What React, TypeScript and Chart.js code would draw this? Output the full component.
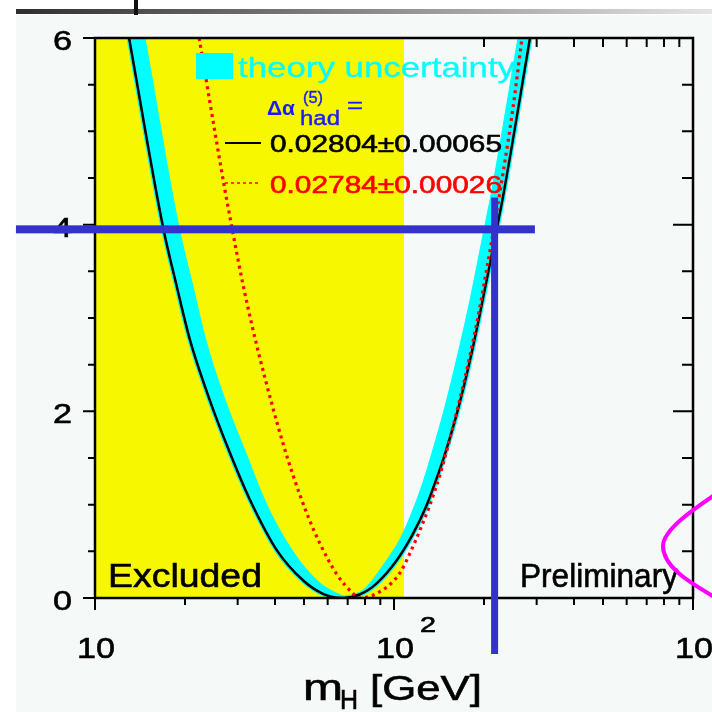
import React, { useEffect, useRef } from 'react';
import { Chart, registerables } from 'chart.js';

Chart.register(...registerables);

const FONT = '"Liberation Sans", Arial, Helvetica, sans-serif';

// Δχ² versus m_H for Δα_had^(5) = 0.02804 ± 0.00065
const BLACK_MH = [13.0, 16.9, 18.8, 20.8, 24.2, 28.3, 33.0, 40.6, 49.6, 57.9, 67.0, 77.0, 87.7, 102.4, 115.8, 128.8, 137.0, 145.9, 162.4, 179.6, 193.9, 209.4, 221.1, 231.5, 285.0];
const BLACK_CHI2 = [6.0, 3.97, 3.33, 2.76, 2.12, 1.55, 1.05, 0.51, 0.19, 0.045, 0.0, 0.04, 0.16, 0.41, 0.69, 1.0, 1.23, 1.48, 1.98, 2.55, 3.05, 3.58, 3.97, 4.3, 6.0];

// upper edge of the theory-uncertainty band
const BAND_MH = [14.7, 19.1, 21.3, 23.5, 27.4, 32.0, 37.3, 45.9, 56.1, 65.5, 71.0, 79.9, 93.3, 105.5, 117.5, 125.0, 133.0, 148.1, 163.7, 176.8, 191.0, 201.6, 211.1, 259.8];
const BAND_CHI2 = [6.0, 3.97, 3.33, 2.76, 2.1, 1.55, 1.02, 0.5, 0.17, 0.04, 0.0, 0.1, 0.38, 0.65, 1.0, 1.24, 1.52, 2.05, 2.62, 3.09, 3.62, 4.0, 4.32, 6.0];

// Δχ² versus m_H for Δα_had^(5) = 0.02784 ± 0.00026
const RED_MH = [22.3, 27.2, 28.7, 30.1, 31.3, 33.5, 35.6, 39.1, 42.5, 45.9, 51.2, 56.6, 64.5, 72.9, 77.0, 94.8, 104.7, 113.1, 122.2, 131.9, 142.5, 163.7, 179.6, 193.9, 201.5, 209.4, 231.5, 250.0, 268.0];
const RED_CHI2 = [6.0, 4.37, 3.97, 3.62, 3.35, 2.92, 2.57, 2.07, 1.66, 1.32, 0.9, 0.58, 0.25, 0.05, 0.0, 0.12, 0.27, 0.48, 0.73, 1.0, 1.32, 2.05, 2.6, 3.12, 3.42, 3.72, 4.55, 5.25, 6.0];

// direct-search exclusion edge (GeV)
const EXCLUDED_LIMIT = 108;

const X_MIN = 10;
const X_MAX = 1000;
const Y_MIN = 0;
const Y_MAX = 6;

const X_MAJOR = [10, 100, 1000];
const X_MAJOR_BASE = ['10', '10', '10'];
const X_MAJOR_EXP = ['', '2', '3'];
const X_MINOR_STEPS = [2, 3, 4, 5, 6, 7, 8, 9];
const Y_LABEL_VALUES = [0, 2, 4, 6];
const Y_LABELS = ['0', '2', '4', '6'];
const Y_MINOR_STEP = 0.5;

// marker cross
const MARK_CHI2 = 3.95;
const MARK_CHI2_FROM_MH = 5.44;
const MARK_CHI2_TO_MH = 296;
const MARK_MH = 217;
const MARK_MH_FROM_CHI2 = 4.29;
const MARK_MH_TO_CHI2 = -0.6;

const SLIDE_BG = '#f5f9f7';
const YELLOW = '#f7f700';
const CYAN = '#00ffff';
const BLUE = '#3333cc';

const RED_IDX = 0;
const BLACK_IDX = 1;
const OUTLINE_IDX = 2;
const BAND_IDX = 3;

const toPoints = (xs: number[], ys: number[]) => xs.map((x, i) => ({ x, y: ys[i] }));

function drawText(
  ctx: CanvasRenderingContext2D,
  text: string,
  left: number,
  baseline: number,
  size: number,
  width: number,
  color: string,
  weight = 'normal',
  stroke = 0.6
) {
  ctx.save();
  ctx.font = `${weight} ${size}px ${FONT}`;
  ctx.fillStyle = color;
  ctx.strokeStyle = color;
  ctx.textAlign = 'left';
  ctx.textBaseline = 'alphabetic';
  const natural = ctx.measureText(text).width;
  ctx.translate(left, baseline);
  ctx.scale(width / natural, 1);
  ctx.fillText(text, 0, 0);
  if (stroke > 0) {
    ctx.lineWidth = stroke;
    ctx.strokeText(text, 0, 0);
  }
  ctx.restore();
}

function xTickValues() {
  const out: { v: number; major: boolean }[] = [];
  for (let d = 0; d < X_MAJOR.length; d++) {
    out.push({ v: X_MAJOR[d], major: true });
    if (d < X_MAJOR.length - 1) {
      for (const s of X_MINOR_STEPS) out.push({ v: X_MAJOR[d] * s, major: false });
    }
  }
  return out;
}

function yTickValues() {
  const out: { v: number; major: boolean }[] = [];
  for (let v = Y_MIN; v <= Y_MAX + 1e-9; v += Y_MINOR_STEP) {
    out.push({ v, major: Y_LABEL_VALUES.includes(v) });
  }
  return out;
}

const decor = {
  id: 'decor',
  beforeDraw(chart: any) {
    const { ctx, width, height, chartArea: ca } = chart;
    const xs = chart.scales.x;
    ctx.save();
    ctx.fillStyle = '#ffffff';
    ctx.fillRect(0, 0, width, height);
    ctx.fillStyle = SLIDE_BG;
    ctx.fillRect(16, 15, width - 16, height - 15);
    const g = ctx.createLinearGradient(16, 0, width, 0);
    g.addColorStop(0, '#2e2e2e');
    g.addColorStop(1, '#e4e4e4');
    ctx.fillStyle = g;
    ctx.fillRect(16, 9, width - 16, 5);
    ctx.fillStyle = '#111111';
    ctx.fillRect(134, 0, 4, 15);

    // top axis ticks (inside)
    ctx.strokeStyle = '#000';
    ctx.lineWidth = 2;
    for (const t of xTickValues()) {
      const px = xs.getPixelForValue(t.v);
      ctx.beginPath();
      ctx.moveTo(px, ca.top);
      ctx.lineTo(px, ca.top + (t.major ? 14 : 9));
      ctx.stroke();
    }
    ctx.restore();
  },
  beforeDatasetsDraw(chart: any) {
    const { ctx, chartArea: ca } = chart;
    const xs = chart.scales.x;
    const x0 = xs.getPixelForValue(X_MIN);
    const x1 = xs.getPixelForValue(EXCLUDED_LIMIT);
    ctx.save();
    ctx.fillStyle = YELLOW;
    ctx.fillRect(x0, ca.top, x1 - x0, ca.bottom - ca.top);

    // theory band: region between the black curve and the band's upper edge
    const outer = chart.getDatasetMeta(OUTLINE_IDX).dataset;
    const inner = chart.getDatasetMeta(BAND_IDX).dataset;
    outer.updateControlPoints(ca, 'x');
    inner.updateControlPoints(ca, 'x');
    ctx.beginPath();
    ctx.rect(ca.left, ca.top, ca.right - ca.left, ca.bottom - ca.top);
    ctx.clip();
    ctx.beginPath();
    outer.pathSegment(ctx, outer.segments[0]);
    inner.pathSegment(ctx, inner.segments[0], { move: false, reverse: true });
    ctx.closePath();
    ctx.fillStyle = CYAN;
    ctx.fill();
    ctx.restore();
  },
  afterDatasetsDraw(chart: any) {
    const { ctx, chartArea: ca } = chart;
    const xs = chart.scales.x;
    const ys = chart.scales.y;
    ctx.save();

    // frame
    ctx.strokeStyle = '#000';
    ctx.lineWidth = 2.5;
    ctx.strokeRect(ca.left, ca.top, ca.right - ca.left, ca.bottom - ca.top);

    // ticks
    ctx.lineWidth = 2;
    for (const t of xTickValues()) {
      const px = xs.getPixelForValue(t.v);
      ctx.beginPath();
      ctx.moveTo(px, ca.bottom);
      ctx.lineTo(px, ca.bottom + (t.major ? 12 : 7));
      ctx.stroke();
    }
    for (const t of yTickValues()) {
      const py = ys.getPixelForValue(t.v);
      ctx.beginPath();
      ctx.moveTo(ca.left - (t.major ? 12 : 7), py);
      ctx.lineTo(ca.left, py);
      ctx.moveTo(ca.right - (t.major ? 20 : 11), py);
      ctx.lineTo(ca.right, py);
      ctx.stroke();
    }

    // tick labels
    Y_LABEL_VALUES.forEach((v, i) => {
      const py = ys.getPixelForValue(v);
      drawText(ctx, Y_LABELS[i], ca.left - 42, py + 12, 28, 19, '#000');
    });
    X_MAJOR.forEach((v, i) => {
      const cx = xs.getPixelForValue(v) + 1;
      drawText(ctx, X_MAJOR_BASE[i], cx - 19, ca.bottom + 60, 30, 38, '#000');
      if (X_MAJOR_EXP[i]) drawText(ctx, X_MAJOR_EXP[i], cx + 25, ca.bottom + 34, 22, 16, '#000');
    });

    // axis title
    drawText(ctx, 'm', 303, 700, 37, 40, '#000');
    drawText(ctx, 'H', 340, 709, 28, 18, '#000');
    drawText(ctx, '[GeV]', 370, 700, 35, 112, '#000');

    // legend
    ctx.fillStyle = CYAN;
    ctx.fillRect(196, 53, 37, 26);
    drawText(ctx, 'theory uncertainty', 238, 77, 28, 277, CYAN, 'normal', 0.3);
    drawText(ctx, 'Δα', 267, 115, 21, 28, '#1a1aff', 'bold', 0);
    drawText(ctx, '(5)', 303, 103, 17, 20, '#1a1aff', 'normal', 0.4);
    drawText(ctx, 'had', 300, 125, 20, 40, '#1a1aff', 'normal', 0.4);
    drawText(ctx, '=', 347, 113, 22, 16, '#1a1aff', 'normal', 0.4);

    ctx.strokeStyle = '#000';
    ctx.lineWidth = 2;
    ctx.beginPath();
    ctx.moveTo(225, 143);
    ctx.lineTo(261, 143);
    ctx.stroke();
    drawText(ctx, '0.02804±0.00065', 270, 152, 24, 232, '#000');

    ctx.strokeStyle = '#ff0000';
    ctx.lineWidth = 1.5;
    ctx.setLineDash([3, 3]);
    ctx.beginPath();
    ctx.moveTo(225, 183);
    ctx.lineTo(261, 183);
    ctx.stroke();
    ctx.setLineDash([]);
    drawText(ctx, '0.02784±0.00026', 270, 193, 24, 232, '#ff0000');

    drawText(ctx, 'Excluded', 108, 587, 34, 154, '#000');
    drawText(ctx, 'Preliminary', 520, 587, 33, 158, '#000');

    // marker cross
    ctx.fillStyle = BLUE;
    const hy = ys.getPixelForValue(MARK_CHI2);
    const hx0 = xs.getPixelForValue(MARK_CHI2_FROM_MH);
    const hx1 = xs.getPixelForValue(MARK_CHI2_TO_MH);
    ctx.fillRect(hx0, hy - 4, hx1 - hx0, 8);
    const vx = xs.getPixelForValue(MARK_MH);
    const vy0 = ys.getPixelForValue(MARK_MH_FROM_CHI2);
    const vy1 = ys.getPixelForValue(MARK_MH_TO_CHI2);
    ctx.fillRect(vx - 3.5, vy0, 7, vy1 - vy0);

    // magenta loop at the right edge
    ctx.strokeStyle = '#ff00ff';
    ctx.lineWidth = 4;
    ctx.beginPath();
    ctx.moveTo(716, 494);
    ctx.bezierCurveTo(703, 503, 663, 528, 663, 546);
    ctx.bezierCurveTo(663, 570, 700, 588, 716, 598);
    ctx.stroke();

    ctx.restore();
  },
};

export default function App() {
  const ref = useRef<HTMLCanvasElement | null>(null);

  useEffect(() => {
    const canvas = ref.current;
    if (!canvas) return;
    const datasets: any[] = [];
    datasets[RED_IDX] = {
      data: toPoints(RED_MH, RED_CHI2),
      borderColor: '#ff0000',
      borderWidth: 3.2,
      borderDash: [3, 4],
      pointRadius: 0,
      fill: false,
      cubicInterpolationMode: 'monotone',
    };
    datasets[BLACK_IDX] = {
      data: toPoints(BLACK_MH, BLACK_CHI2),
      borderColor: '#000000',
      borderWidth: 2.5,
      pointRadius: 0,
      fill: false,
      cubicInterpolationMode: 'monotone',
    };
    datasets[OUTLINE_IDX] = {
      data: toPoints(BLACK_MH, BLACK_CHI2),
      borderColor: CYAN,
      borderWidth: 5,
      pointRadius: 0,
      fill: false,
      cubicInterpolationMode: 'monotone',
    };
    datasets[BAND_IDX] = {
      data: toPoints(BAND_MH, BAND_CHI2),
      borderColor: CYAN,
      borderWidth: 1,
      pointRadius: 0,
      fill: false,
      cubicInterpolationMode: 'monotone',
    };
    const chart = new Chart(canvas, {
      type: 'line',
      data: { datasets },
      options: {
        responsive: false,
        animation: false,
        devicePixelRatio: 1,
        layout: { padding: { left: 95, right: 19, top: 38, bottom: 114 } },
        plugins: { legend: { display: false }, tooltip: { enabled: false } },
        scales: {
          x: { type: 'logarithmic', min: X_MIN, max: X_MAX, display: false },
          y: { type: 'linear', min: Y_MIN, max: Y_MAX, display: false },
        },
      },
      plugins: [decor],
    } as any);
    return () => chart.destroy();
  }, []);

  return (
    <div style={{ position: 'absolute', left: 0, top: 0, width: 712, height: 712 }}>
      <canvas ref={ref} width={712} height={712} />
    </div>
  );
}
